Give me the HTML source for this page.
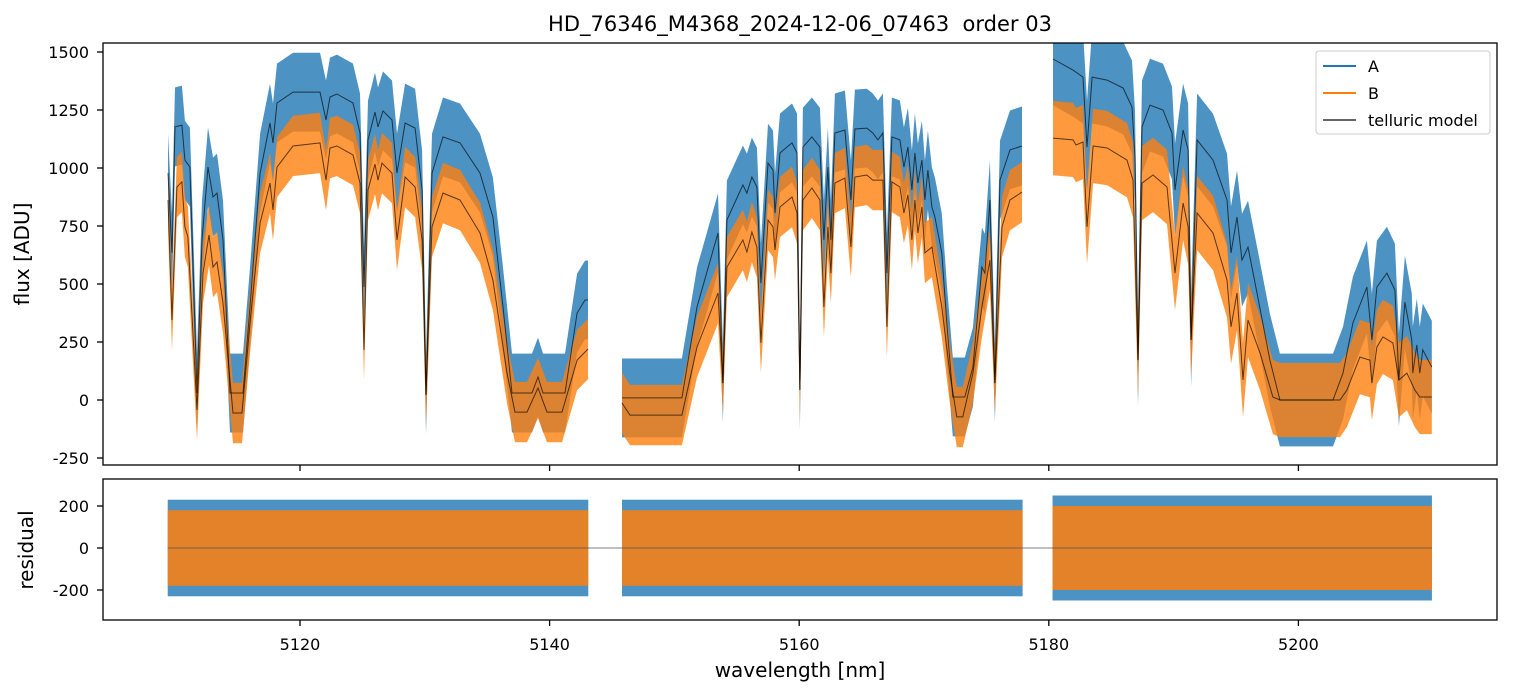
<!DOCTYPE html>
<html><head><meta charset="utf-8"><style>
body{margin:0;background:#fff;}
svg{display:block;font-family:"DejaVu Sans","Liberation Sans",sans-serif;}
</style></head><body>
<svg id="chart" width="1513" height="696" viewBox="0 0 1513 696" xmlns="http://www.w3.org/2000/svg">
<defs>
<clipPath id="clipTop"><rect x="103" y="43" width="1394" height="422"/></clipPath>
<clipPath id="clipBot"><rect x="103" y="479" width="1394" height="141"/></clipPath>
</defs>
<text x="800" y="31" text-anchor="middle" font-size="21" fill="#000">HD_76346_M4368_2024-12-06_07463&#160; order 03</text>
<g id="topPanel"></g>
<g id="botPanel"></g>
<text transform="translate(29,254) rotate(-90)" text-anchor="middle" font-size="20">flux [ADU]</text>
<text transform="translate(33,550) rotate(-90)" text-anchor="middle" font-size="20">residual</text>
<text x="800" y="677" text-anchor="middle" font-size="20">wavelength [nm]</text>
<g id="legend">
<rect x="1316" y="51" width="174" height="83" rx="3" fill="#fff" fill-opacity="0.8" stroke="#ccc"/>
<line x1="1323" y1="66" x2="1356" y2="66" stroke="#1f77b4" stroke-width="2"/>
<text x="1368" y="72" font-size="16">A</text>
<line x1="1323" y1="93" x2="1356" y2="93" stroke="#ff7f0e" stroke-width="2"/>
<text x="1368" y="99" font-size="16">B</text>
<line x1="1323" y1="120" x2="1356" y2="120" stroke="#000" stroke-opacity="0.6" stroke-width="2"/>
<text x="1368" y="126" font-size="16">telluric model</text>
</g>
</svg>
<script>
// ---- data ----
const xTicks = [5120, 5140, 5160, 5180, 5200];
const yTicksTop = [1500, 1250, 1000, 750, 500, 250, 0, -250];
const yTicksBot = [200, 0, -200];
const segments = [[5109.4, 5143.1], [5145.8, 5177.9], [5180.3, 5210.7]];
const noiseA = [170, 170, 200];
const noiseB = [130, 130, 160];
const residNoiseA = [230, 230, 250];
const residNoiseB = [180, 180, 200];
const modelA_w = [
[5109.42,5109.74,5109.98,5110.54,5110.78,5111.18,5111.75,5112.15,5112.63,5113.03,5113.35,5113.83,5114.39,5115.43,5115.99,5116.80,5117.60,5117.84,5118.16,5119.44,5121.60,5122.08,5122.40,5122.96,5124.25,5124.81,5125.13,5125.45,5126.01,5126.25,5126.65,5127.37,5127.77,5128.42,5129.22,5129.78,5130.10,5130.58,5131.46,5132.82,5134.42,5135.46,5136.27,5136.99,5138.59,5139.07,5139.47,5141.23,5142.20,5142.84,5143.08],
[5145.80,5150.60,5151.81,5153.49,5153.89,5154.21,5155.49,5155.81,5156.21,5156.61,5156.93,5157.50,5157.90,5158.06,5158.46,5159.42,5159.82,5160.06,5160.30,5161.02,5161.66,5161.98,5162.30,5162.54,5162.86,5163.66,5164.14,5164.46,5165.42,5165.90,5166.31,5166.71,5167.03,5167.43,5168.07,5168.39,5168.71,5169.03,5169.27,5169.51,5169.83,5170.07,5170.31,5170.63,5170.87,5171.43,5171.83,5172.31,5173.27,5173.92,5174.64,5174.88,5175.28,5175.68,5176.09,5176.89,5177.85],
[5180.34,5181.94,5182.74,5183.06,5183.47,5184.67,5185.95,5186.67,5186.91,5187.15,5187.47,5188.11,5189.15,5189.87,5190.11,5190.76,5191.16,5191.40,5191.88,5193.16,5194.28,5194.60,5195.08,5195.48,5195.96,5196.68,5197.72,5198.52,5202.77,5203.57,5204.37,5205.49,5205.89,5206.29,5207.09,5207.73,5208.05,5208.53,5209.09,5209.17,5209.49,5209.73,5209.97,5210.69]];
const modelA_f = [
[978,634,1177,1185,1034,1004,30,690,1004,875,892,690,30,30,401,978,1194,1108,1280,1327,1327,1207,1306,1319,1280,1151,487,1121,1241,1177,1246,1207,978,1194,1172,905,22,978,1134,1108,978,789,401,30,30,99,30,30,375,431,431],
[9,9,401,720,73,776,927,892,961,918,504,1021,991,806,1065,1108,1065,43,1090,1134,1090,690,1004,690,1151,1164,862,1168,1172,1151,1121,1151,547,1134,1121,1004,1090,905,1065,935,1034,862,991,832,789,634,332,13,13,142,573,547,862,73,948,1078,1095],
[1470,1422,1392,1090,1392,1379,1345,1263,1047,172,1177,1271,1250,1151,905,1164,1078,259,1121,1034,862,634,789,603,659,461,172,0,0,116,332,487,259,487,547,474,86,422,259,116,237,116,216,142]];
const modelB_w = [
[5109.42,5109.74,5110.14,5110.54,5110.78,5111.02,5111.75,5112.23,5112.71,5113.03,5113.35,5113.83,5114.63,5115.35,5115.99,5116.80,5117.60,5117.84,5118.16,5119.44,5121.60,5122.08,5122.40,5122.96,5124.25,5124.81,5125.13,5125.45,5126.01,5126.25,5126.57,5127.37,5127.77,5128.42,5129.22,5129.78,5130.10,5130.58,5131.46,5132.82,5134.42,5135.46,5136.59,5137.23,5138.19,5139.07,5139.79,5140.99,5142.20,5143.08],
[5145.80,5146.44,5150.60,5151.81,5153.49,5153.89,5154.21,5155.49,5155.81,5156.21,5156.61,5156.93,5157.50,5157.90,5158.06,5158.46,5159.42,5159.82,5160.06,5160.30,5161.02,5161.66,5161.98,5162.30,5162.54,5162.86,5163.66,5164.14,5164.46,5165.42,5165.90,5166.71,5167.03,5167.43,5168.07,5168.39,5168.71,5169.03,5169.27,5169.51,5169.83,5170.07,5170.63,5171.43,5172.07,5172.63,5173.11,5173.92,5174.64,5175.28,5175.68,5176.25,5176.89,5177.85],
[5180.34,5181.94,5182.18,5182.74,5183.06,5183.55,5184.67,5186.27,5186.75,5187.15,5187.47,5188.35,5189.47,5190.11,5190.76,5191.16,5191.40,5191.88,5193.16,5194.28,5194.60,5195.08,5195.56,5195.96,5196.92,5197.96,5198.52,5203.33,5203.89,5204.93,5205.73,5205.89,5206.29,5206.77,5207.57,5208.05,5208.69,5209.33,5209.73,5210.69]];
const modelB_f = [
[862,345,918,940,746,703,-43,547,711,573,595,418,-56,-56,332,763,935,819,1004,1095,1108,948,1086,1095,1056,935,216,905,1017,948,1021,978,690,961,918,690,22,746,892,862,720,517,116,-52,-52,52,-52,-52,172,220],
[-13,-65,-65,228,461,73,573,690,638,724,659,246,776,746,647,832,875,806,43,862,914,862,401,746,547,935,957,659,961,970,948,948,315,940,918,806,884,690,862,720,832,634,659,401,116,-73,-73,116,401,603,73,746,862,896],
[1129,1121,1099,1112,746,1095,1086,1034,948,172,935,970,918,547,849,746,259,806,720,517,315,461,86,345,203,13,0,0,43,185,172,73,228,272,246,86,116,43,13,13]];

// ---- axes ----
const X0 = 103, X1 = 1497;
const xs = w => 300 + (w - 5120) * 12.48;
const ysTop = f => 400 - f * 58 / 250;
const ysBot = r => 548 - r * 0.21;
const NS = 'http://www.w3.org/2000/svg';
function mk(tag, attrs, parent) {
  const e = document.createElementNS(NS, tag);
  for (const k in attrs) e.setAttribute(k, attrs[k]);
  parent.appendChild(e);
  return e;
}
const topG = document.getElementById('topPanel');
const botG = document.getElementById('botPanel');
const gTop = mk('g', {'clip-path': 'url(#clipTop)'}, topG);


const gBot = mk('g', {'clip-path': 'url(#clipBot)'}, botG);



function bandPath(ws, fs, sp, ys) {
  let up = '', lo = '';
  for (let i = 0; i < ws.length; i++) up += (i ? 'L' : 'M') + xs(ws[i]).toFixed(1) + ',' + ys(fs[i] + sp).toFixed(1);
  for (let i = ws.length - 1; i >= 0; i--) lo += 'L' + xs(ws[i]).toFixed(1) + ',' + ys(fs[i] - sp).toFixed(1);
  return up + lo + 'Z';
}
function linePath(ws, fs, ys) {
  let d = '';
  for (let i = 0; i < ws.length; i++) d += (i ? 'L' : 'M') + xs(ws[i]).toFixed(1) + ',' + ys(fs[i]).toFixed(1);
  return d;
}
for (let s = 0; s < 3; s++) {
  const pa = mk('path', {d: bandPath(modelA_w[s], modelA_f[s], noiseA[s], ysTop), fill: '#1f77b4', 'fill-opacity': 0.8}, gTop);
  
  
}
for (let s = 0; s < 3; s++) {
  const pb = mk('path', {d: bandPath(modelB_w[s], modelB_f[s], noiseB[s], ysTop), fill: '#ff7f0e', 'fill-opacity': 0.8}, gTop);
  
  
}
for (let s = 0; s < 3; s++) {
  const la = mk('path', {d: linePath(modelA_w[s], modelA_f[s], ysTop), fill: 'none', stroke: '#000', 'stroke-opacity': 0.65, 'stroke-width': 1}, gTop);
  
  
  const lb = mk('path', {d: linePath(modelB_w[s], modelB_f[s], ysTop), fill: 'none', stroke: '#000', 'stroke-opacity': 0.65, 'stroke-width': 1}, gTop);
  
  
}
for (let s = 0; s < 3; s++) {
  const seg = segments[s];
  const ra = mk('rect', {x: xs(seg[0]), y: ysBot(residNoiseA[s]), width: xs(seg[1]) - xs(seg[0]), height: ysBot(-residNoiseA[s]) - ysBot(residNoiseA[s]), fill: '#1f77b4', 'fill-opacity': 0.8}, gBot);
  
  
  const rb = mk('rect', {x: xs(seg[0]), y: ysBot(residNoiseB[s]), width: xs(seg[1]) - xs(seg[0]), height: ysBot(-residNoiseB[s]) - ysBot(residNoiseB[s]), fill: '#ff7f0e', 'fill-opacity': 0.85}, gBot);
  
  
}
const zl = mk('line', {x1: xs(segments[0][0]), x2: xs(segments[2][1]), y1: ysBot(0), y2: ysBot(0), stroke: '#555', 'stroke-width': 0.8}, gBot);



const f1 = mk('rect', {x: X0, y: 43, width: X1 - X0, height: 422, fill: 'none', stroke: '#000', 'stroke-width': 1.3}, topG);


const f2 = mk('rect', {x: X0, y: 479, width: X1 - X0, height: 141, fill: 'none', stroke: '#000', 'stroke-width': 1.3}, botG);



xTicks.forEach(t => {
  const x = xs(t);
  const a = mk('line', {x1: x, x2: x, y1: 465, y2: 471, stroke: '#000', 'stroke-width': 1.3}, topG);
  
  
  const b = mk('line', {x1: x, x2: x, y1: 620, y2: 626, stroke: '#000', 'stroke-width': 1.3}, botG);
  
  
  const l = mk('text', {x: x, y: 650, 'text-anchor': 'middle', 'font-size': 16}, botG);
  l.textContent = t;
  
  
});
yTicksTop.forEach(t => {
  const y = ysTop(t);
  const a = mk('line', {x1: X0 - 6, x2: X0, y1: y, y2: y, stroke: '#000', 'stroke-width': 1.3}, topG);
  
  
  const l = mk('text', {x: 89, y: y + 6, 'text-anchor': 'end', 'font-size': 16}, topG);
  l.textContent = t;
  
  
});
yTicksBot.forEach(t => {
  const y = ysBot(t);
  const a = mk('line', {x1: X0 - 6, x2: X0, y1: y, y2: y, stroke: '#000', 'stroke-width': 1.3}, botG);
  
  
  const l = mk('text', {x: 89, y: y + 6, 'text-anchor': 'end', 'font-size': 16}, botG);
  l.textContent = t;
  
  
});
</script>
</body></html>
